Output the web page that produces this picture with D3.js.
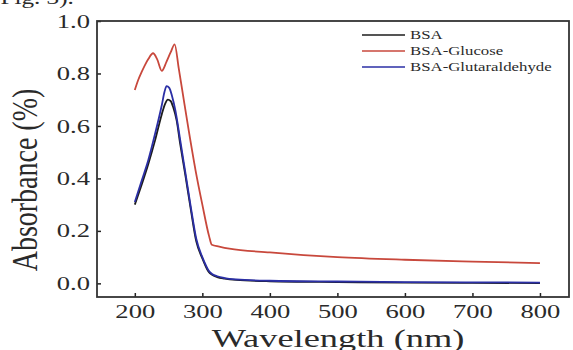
<!DOCTYPE html>
<html>
<head>
<meta charset="utf-8">
<script src="https://cdn.jsdelivr.net/npm/d3@7"></script>
<style>
  body { margin: 0; background: #fff; }
  text { font-family: "Liberation Serif", "Times New Roman", serif; fill: #2a2a2a; }
</style>
</head>
<body>
<div class="chart"></div>
<script>
// series
const bsaWl = [200, 210, 220, 230, 240, 245, 249, 253, 257, 262, 267, 275, 283, 291, 300, 305, 309, 315, 322, 333, 350, 400, 500, 600, 700, 800]
const bsaAbs = [0.30, 0.375, 0.455, 0.545, 0.645, 0.685, 0.70, 0.695, 0.67, 0.62, 0.535, 0.41, 0.28, 0.16, 0.095, 0.065, 0.045, 0.032, 0.024, 0.018, 0.013, 0.008, 0.005, 0.003, 0.002, 0.001]

const glucoseWl = [200, 205, 210, 215, 220, 227, 233, 240, 247, 253, 259, 265, 270, 280, 290, 300, 310, 314, 325, 340, 400, 450, 500, 600, 700, 800]
const glucoseAbs = [0.737, 0.775, 0.805, 0.832, 0.855, 0.877, 0.855, 0.81, 0.845, 0.88, 0.911, 0.82, 0.74, 0.58, 0.43, 0.30, 0.18, 0.147, 0.14, 0.132, 0.118, 0.108, 0.10, 0.09, 0.083, 0.077]

const glutWl = [200, 210, 220, 230, 240, 244, 247, 251, 255, 260, 267, 275, 283, 291, 300, 305, 309, 315, 322, 333, 350, 400, 500, 600, 700, 800]
const glutAbs = [0.31, 0.39, 0.47, 0.57, 0.68, 0.73, 0.752, 0.745, 0.715, 0.66, 0.55, 0.42, 0.29, 0.17, 0.10, 0.07, 0.05, 0.035, 0.027, 0.02, 0.015, 0.01, 0.007, 0.005, 0.004, 0.003]

const seriesNames = ["BSA", "BSA-Glucose", "BSA-Glutaraldehyde"]
const xTicks = [200, 300, 400, 500, 600, 700, 800]
const yTicks = [0.0, 0.2, 0.4, 0.6, 0.8, 1.0]

const margin = {top: 21, right: 4, bottom: 53, left: 97}
const width = 573 - margin.left - margin.right
const height = 350 - margin.top - margin.bottom
const stretch = 'scale(1.4,1)'  // the figure's text is horizontally stretched

const root = d3.select(".chart").append('svg')
            .attr('width', 573)
            .attr('height', 350)

const svg = root.append('g')
            .attr('transform', 'translate(' + margin.left + ',' + margin.top + ')')

const x = d3.scaleLinear().domain([144, 843]).range([0, width])
const y = d3.scaleLinear().domain([-0.052, 1.0]).range([height, 0])

// caption cut off at top of the crop
root.append('text')
    .attr('transform', 'translate(-8,4) ' + stretch)
    .style('font-size', '18px')
    .text('(Fig. 3).')

const line = d3.line()
    .x(d => x(d[0]))
    .y(d => y(d[1]))
    .curve(d3.curveMonotoneX)

const series = [
    {name: seriesNames[0], wl: bsaWl, abs: bsaAbs, color: '#1c1c1c'},
    {name: seriesNames[1], wl: glucoseWl, abs: glucoseAbs, color: '#c8483c'},
    {name: seriesNames[2], wl: glutWl, abs: glutAbs, color: '#2b2fa6'}
]

series.forEach(function(s) {
    svg.append('path')
        .datum(s.wl.map((w, i) => [w, s.abs[i]]))
        .attr('fill', 'none')
        .attr('stroke', s.color)
        .attr('stroke-width', 1.8)
        .attr('stroke-linejoin', 'round')
        .attr('d', line)
})

// axes, ticks pointing inward
const xAxis = d3.axisBottom(x).tickValues(xTicks).tickSizeInner(-4).tickSizeOuter(0).tickPadding(8)
const yAxis = d3.axisLeft(y).tickValues(yTicks).tickSizeInner(-4).tickSizeOuter(0).tickPadding(5)
    .tickFormat(d3.format('.1f'))

svg.append('g')
    .attr('class', 'x axis')
    .attr('transform', 'translate(0,' + height + ')')
    .call(xAxis)

svg.append('g')
    .attr('class', 'y axis')
    .call(yAxis)

svg.selectAll('.axis .domain').remove()
svg.selectAll('.axis .tick line')
    .attr('stroke', '#222')
    .style('stroke-width', '1.5px')
svg.selectAll('.axis .tick text')
    .attr('transform', stretch)
    .style('font-size', '19px')
    .style('font-family', '"Liberation Serif", serif')
    .attr('fill', '#2a2a2a')

// frame
svg.append('rect')
    .attr('width', width)
    .attr('height', height)
    .attr('fill', 'none')
    .attr('stroke', '#333')
    .attr('stroke-width', 1.8)

// axis titles
root.append('text')
    .attr('transform', 'translate(338,347) ' + stretch)
    .attr('text-anchor', 'middle')
    .style('font-size', '26px')
    .text('Wavelength (nm)')

root.append('text')
    .attr('transform', 'translate(37,180) rotate(-90) scale(1,1.25)')
    .attr('text-anchor', 'middle')
    .style('font-size', '28px')
    .text('Absorbance (%)')

// legend
const legend = root.append('g')
    .attr('transform', 'translate(362,35)')

series.forEach(function(s, i) {
    legend.append('line')
        .attr('x1', 0).attr('x2', 43)
        .attr('y1', i * 16).attr('y2', i * 16)
        .attr('stroke', s.color)
        .attr('stroke-width', 1.6)
    legend.append('text')
        .attr('transform', 'translate(48,' + (i * 16 + 4) + ') ' + stretch)
        .style('font-size', '12px')
        .attr('fill', '#333')
        .text(s.name)
})
</script>
</body>
</html>
